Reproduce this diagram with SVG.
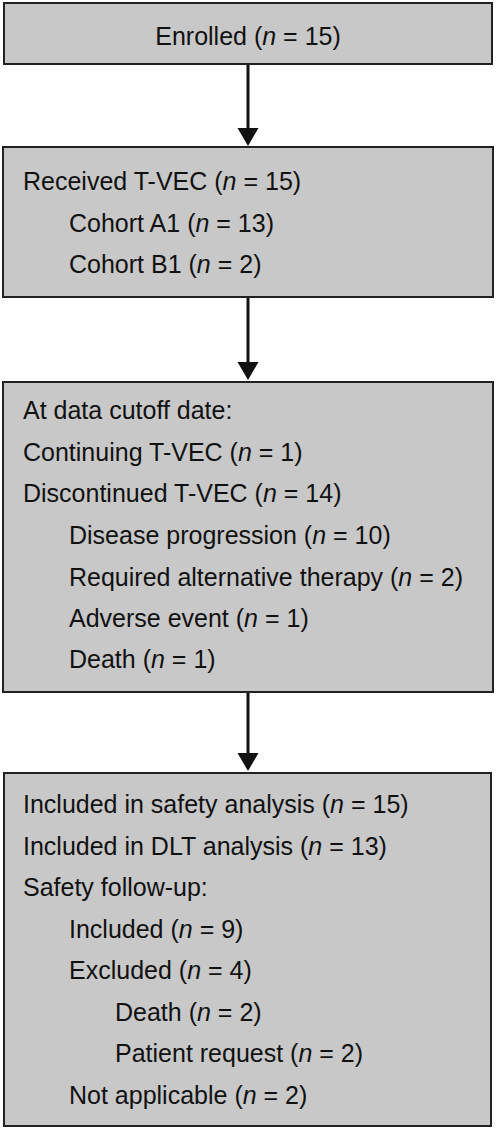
<svg xmlns="http://www.w3.org/2000/svg" width="496" height="1129" viewBox="0 0 496 1129">
<defs>
<style>
.box{fill:#c8c8c8;stroke:#222;stroke-width:2}
.t{font-family:"Liberation Sans",Arial,sans-serif;font-size:25px;fill:#111}
.c{text-anchor:middle}
.conn{stroke:#111;stroke-width:3;fill:none}
</style>
<marker id="ah" markerUnits="userSpaceOnUse" markerWidth="22" markerHeight="22" refX="15" refY="10.5" orient="auto" viewBox="0 0 22 22">
<path d="M0,0 L18,10.5 L0,21 z" fill="#111"/>
</marker>
</defs>
<rect width="496" height="1129" fill="#fff"/>
<g id="connectors">
<line class="conn" x1="248" y1="64" x2="248" y2="143" marker-end="url(#ah)"/>
<line class="conn" x1="248" y1="297" x2="248" y2="377" marker-end="url(#ah)"/>
<line class="conn" x1="248" y1="692" x2="248" y2="768" marker-end="url(#ah)"/>
</g>
<g id="enrolled">
<rect class="box" x="4" y="3" width="488" height="61"/>
<text class="t c" x="248" y="45">Enrolled (<tspan font-style="italic">n</tspan> = 15)</text>
</g>
<g id="received">
<rect class="box" x="3" y="147" width="490" height="150"/>
<text class="t" x="23" y="190">Received T-VEC (<tspan font-style="italic">n</tspan> = 15)</text>
<text class="t" x="69" y="232">Cohort A1 (<tspan font-style="italic">n</tspan> = 13)</text>
<text class="t" x="69" y="273">Cohort B1 (<tspan font-style="italic">n</tspan> = 2)</text>
</g>
<g id="cutoff">
<rect class="box" x="3" y="382" width="490" height="310"/>
<text class="t" x="23" y="419">At data cutoff date:</text>
<text class="t" x="23" y="461">Continuing T-VEC (<tspan font-style="italic">n</tspan> = 1)</text>
<text class="t" x="23" y="502">Discontinued T-VEC (<tspan font-style="italic">n</tspan> = 14)</text>
<text class="t" x="69" y="544">Disease progression (<tspan font-style="italic">n</tspan> = 10)</text>
<text class="t" x="69" y="586">Required alternative therapy (<tspan font-style="italic">n</tspan> = 2)</text>
<text class="t" x="69" y="627">Adverse event (<tspan font-style="italic">n</tspan> = 1)</text>
<text class="t" x="69" y="668">Death (<tspan font-style="italic">n</tspan> = 1)</text>
</g>
<g id="analysis">
<rect class="box" x="4" y="773" width="487" height="353"/>
<text class="t" x="23" y="813">Included in safety analysis (<tspan font-style="italic">n</tspan> = 15)</text>
<text class="t" x="23" y="855">Included in DLT analysis (<tspan font-style="italic">n</tspan> = 13)</text>
<text class="t" x="23" y="896">Safety follow-up:</text>
<text class="t" x="69" y="938">Included (<tspan font-style="italic">n</tspan> = 9)</text>
<text class="t" x="69" y="979">Excluded (<tspan font-style="italic">n</tspan> = 4)</text>
<text class="t" x="115" y="1021">Death (<tspan font-style="italic">n</tspan> = 2)</text>
<text class="t" x="115" y="1062">Patient request (<tspan font-style="italic">n</tspan> = 2)</text>
<text class="t" x="69" y="1104">Not applicable (<tspan font-style="italic">n</tspan> = 2)</text>
</g>
</svg>
